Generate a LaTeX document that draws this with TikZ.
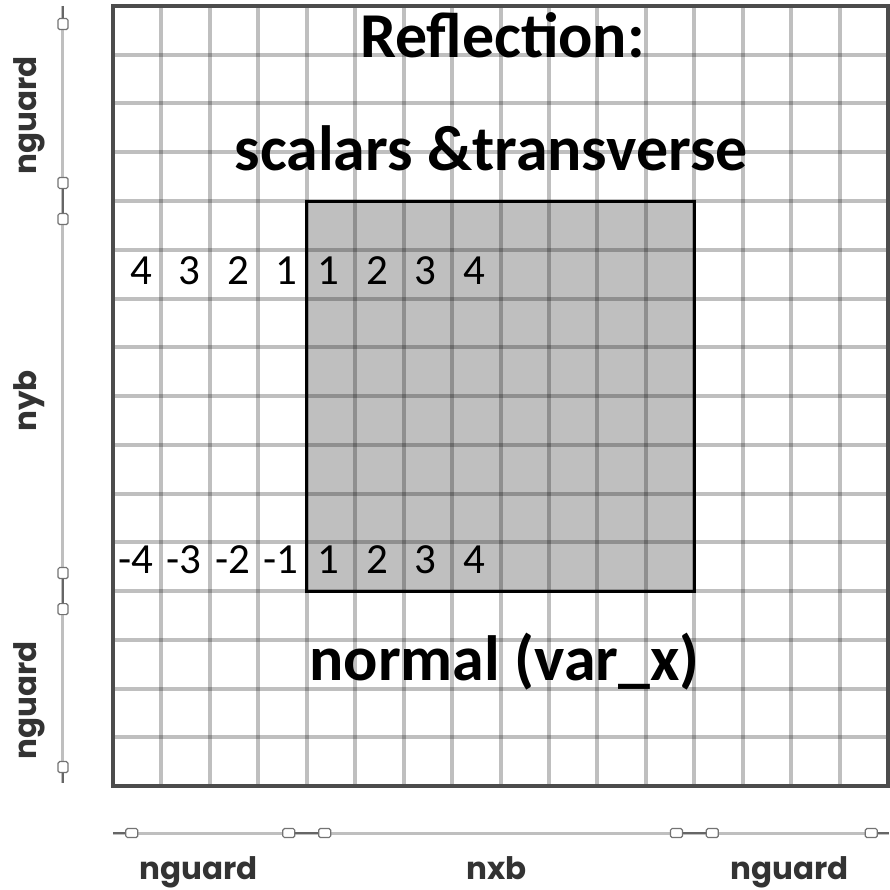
\documentclass[tikz,border=0pt]{standalone}
\usepackage{fontspec}
\setmainfont{Carlito}
\newfontfamily\dimfont{Poppins}

\begin{document}
\begin{tikzpicture}[x=24.25pt,y=24.4pt,
  gridline/.style={line width=2pt,black,opacity=0.25},
  dimline/.style={line width=1.5pt,black!25},
  dimdark/.style={line width=1.2pt,black!60},
  vtick/.style={draw=black!55,fill=white,line width=0.6pt,rounded corners=0.8pt,
    minimum width=5pt,minimum height=5.5pt,inner sep=0pt},
  htick/.style={vtick,minimum width=6pt,minimum height=4.5pt},
  dimlabel/.style={font=\dimfont\bfseries\fontsize{15.5}{16}\selectfont,text=black!80},
  num/.style={font=\fontsize{21.5}{22}\selectfont},
  title/.style={font=\bfseries\fontsize{32}{34}\selectfont}]

  \useasboundingbox (-2.33,-2.131) rectangle (16.02,16.123);

  % interior block and mesh
  \fill[black!25] (4,4) rectangle (12,12);
  \foreach \i in {1,...,15} {
    \draw[gridline] (\i,0) -- (\i,16);
    \draw[gridline] (0,\i) -- (16,\i);
  }
  \draw[line width=1.5pt] (4,4) rectangle (12,12);
  \draw[line width=2.2pt,black!70] (0,0) rectangle (16,16);

  % cell indices
  \foreach \n [count=\k] in {4,3,2,1}
    \node[num] (ra\k) at (\k-0.42,10.57) {\n};
  \foreach \n in {1,...,4}
    \node[num] (rb\n) at (\n+3.45,10.57) {\n};
  \foreach \n [count=\k] in {-4,-3,-2,-1}
    \node[num] (sa\k) at (\k-0.53,4.65) {\n};
  \foreach \n in {1,...,4}
    \node[num] (sb\n) at (\n+3.45,4.65) {\n};

  % titles
  \node[title] (refl) at (8.04,15.4) {Reflection:};
  \node[title] (scal) at (7.81,13.09) {scalars \&transverse};
  \node[title] (norm) at (8.08,2.55) {normal (var\_x)};

  % vertical dimension line
  \coordinate (vtop) at (-1.03,16);
  \coordinate (vbot) at (-1.03,0.06);
  \draw[dimline] (vtop) -- (vbot);
  \foreach \y [count=\k] in {15.63,12.37,11.63,4.37,3.63,0.39}
    \node[vtick] (vt\k) at (-1.03,\y) {};
  \draw[dimdark] (vtop) -- (vt1);
  \draw[dimdark] (vt2) -- (vt3);
  \draw[dimdark] (vt4) -- (vt5);
  \draw[dimdark] (vt6) -- (vbot);

  % horizontal dimension line
  \coordinate (hleft) at (0,-0.963);
  \coordinate (hright) at (16.02,-0.963);
  \draw[dimline] (hleft) -- (hright);
  \foreach \x [count=\k] in {0.39,3.63,4.37,11.63,12.37,15.65}
    \node[htick] (ht\k) at (\x,-0.963) {};
  \draw[dimdark] (hleft) -- (ht1);
  \draw[dimdark] (ht2) -- (ht3);
  \draw[dimdark] (ht4) -- (ht5);
  \draw[dimdark] (ht6) -- (hright);

  % labels
  \node[dimlabel,rotate=90] (gtop) at (-1.72,13.75) {nguard};
  \node[dimlabel,rotate=90] (ny) at (-1.72,7.9) {nyb};
  \node[dimlabel,rotate=90] (gbot) at (-1.72,1.76) {nguard};
  \node[dimlabel,anchor=base] (gleft) at (1.77,-1.92) {nguard};
  \node[dimlabel,anchor=base] (nx) at (7.92,-1.92) {nxb};
  \node[dimlabel,anchor=base] (gright) at (13.97,-1.92) {nguard};
\end{tikzpicture}
\end{document}
